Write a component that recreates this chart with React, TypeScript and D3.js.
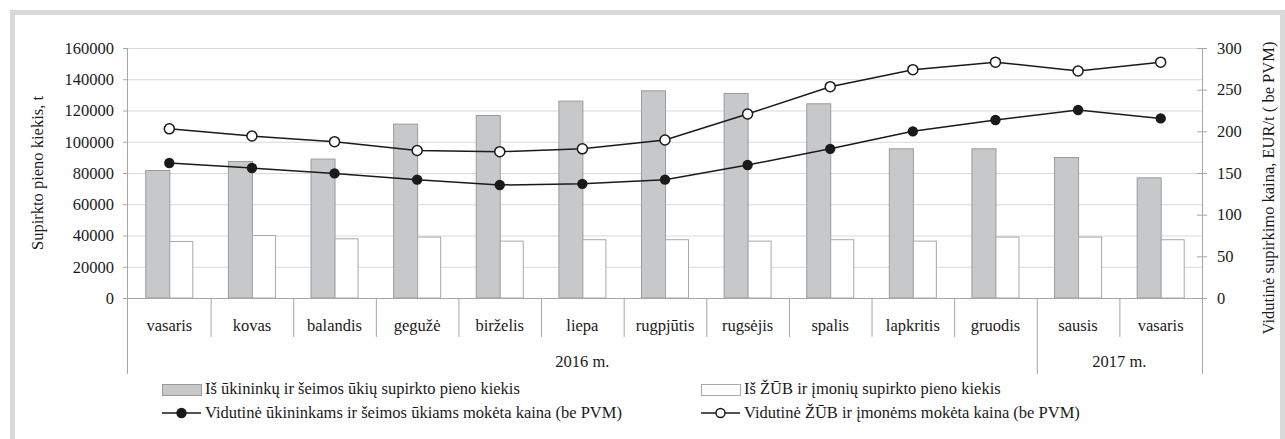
import * as d3 from "d3";

// months of the purchase period (Feb 2016 .. Feb 2017)
const months = [
  "vasaris", "kovas", "balandis", "gegužė", "birželis", "liepa", "rugpjūtis",
  "rugsėjis", "spalis", "lapkritis", "gruodis", "sausis", "vasaris",
];
const yearLabels = ["2016 m.", "2017 m."];
const yearSpans = [11, 2];

// purchased milk, t
const farmQty = [81600, 87400, 88900, 111300, 116800, 126000, 132600, 130900, 124300, 95500, 95500, 89900, 76900];
const coopQty = [36200, 40000, 37900, 39000, 36400, 37300, 37300, 36400, 37300, 36400, 39000, 39000, 37300];

// average price, EUR/t (be PVM)
const farmPrice = [162, 156, 149.5, 142, 135.6, 137, 142, 159.6, 179, 200, 213.6, 225.6, 215.5];
const coopPrice = [203, 194.4, 187.6, 177, 175.6, 179, 189.6, 220.8, 253.6, 274, 283, 272.4, 283];

const leftTicks = [0, 20000, 40000, 60000, 80000, 100000, 120000, 140000, 160000];
const rightTicks = [0, 50, 100, 150, 200, 250, 300];

const legendBars = ["Iš ūkininkų ir šeimos ūkių supirkto pieno kiekis", "Iš ŽŪB ir įmonių supirkto pieno kiekis"];
const legendLines = ["Vidutinė ūkininkams ir šeimos ūkiams mokėta kaina (be PVM)", "Vidutinė ŽŪB ir įmonėms mokėta kaina (be PVM)"];

const W = 1285;
const H = 439;
const m = { left: 128, right: 1202, top: 48, bottom: 298 };
const fontStyle = { fontFamily: '"Liberation Serif", "DejaVu Serif", serif', fontSize: "16.5px" };
const axisGray = "#a6a6a6";
const gridGray = "#d9d9d9";
const txt = "#1a1a1a";

export default function App() {
  const idx = months.map((_, i) => i);
  const x = d3.scaleBand<number>().domain(idx).range([m.left, m.right]);
  const bw = x.bandwidth();
  const sub = d3.scaleBand<string>().domain(["farm", "coop"]).range([0, bw]).paddingOuter(0.72);
  const yL = d3.scaleLinear().domain([0, 160000]).range([m.bottom, m.top]);
  const yR = d3.scaleLinear().domain([0, 300]).range([m.bottom, m.top]);
  const cx = (i: number) => (x(i) as number) + bw / 2;

  const farmLine = d3.line<number>().x((_, i) => cx(i)).y((d) => yR(d))(farmPrice) || "";
  const coopLine = d3.line<number>().x((_, i) => cx(i)).y((d) => yR(d))(coopPrice) || "";

  // year group boundaries
  const bounds: number[] = [0];
  yearSpans.forEach((s) => bounds.push(bounds[bounds.length - 1] + s));
  const edge = (k: number) => (k >= months.length ? m.right : (x(k) as number));

  const legendCols = [162, 701];

  return (
    <div style={{ position: "absolute", left: 0, top: 0 }}>
      <svg width={W} height={H} style={{ display: "block", background: "#fff", ...fontStyle }}>
        <rect x={12.5} y={12.5} width={1270} height={500} fill="none" stroke={gridGray} strokeWidth={5} />

        {/* grid */}
        {leftTicks.map((t) => (
          <line key={"g" + t} x1={m.left} x2={m.right} y1={yL(t) + 0.5} y2={yL(t) + 0.5} stroke={gridGray} strokeWidth={1.2} />
        ))}

        {/* bars */}
        {idx.map((i) => (
          <g key={"b" + i}>
            <rect
              x={(x(i) as number) + (sub("farm") as number) + 0.5}
              y={yL(farmQty[i])}
              width={sub.bandwidth()}
              height={yL(0) - yL(farmQty[i])}
              fill="#c7c8ca"
              stroke="#9b9b9b"
              strokeWidth={1}
            />
            <rect
              x={(x(i) as number) + (sub("coop") as number) + 0.5}
              y={yL(coopQty[i])}
              width={sub.bandwidth() - 1}
              height={yL(0) - yL(coopQty[i])}
              fill="#fff"
              stroke="#a8a8a8"
              strokeWidth={1}
            />
          </g>
        ))}

        {/* axes */}
        <line x1={m.left - 0.5} x2={m.left - 0.5} y1={m.top} y2={374} stroke={axisGray} />
        <line x1={m.right + 0.5} x2={m.right + 0.5} y1={m.top} y2={374} stroke={axisGray} />
        <line x1={m.left - 5} x2={m.right} y1={m.bottom + 0.5} y2={m.bottom + 0.5} stroke={axisGray} />
        {leftTicks.map((t) => (
          <g key={"lt" + t}>
            <line x1={m.left - 5} x2={m.left} y1={yL(t) + 0.5} y2={yL(t) + 0.5} stroke={axisGray} />
            <text x={114} y={yL(t)} dy="0.35em" textAnchor="end" fill={txt} style={fontStyle}>{t}</text>
          </g>
        ))}
        {rightTicks.map((t) => (
          <g key={"rt" + t}>
            <line x1={m.right - 5} x2={m.right + 5} y1={yR(t) + 0.5} y2={yR(t) + 0.5} stroke={axisGray} />
            <text x={1217} y={yR(t)} dy="0.35em" textAnchor="start" fill={txt} style={fontStyle}>{t}</text>
          </g>
        ))}

        {/* category axis */}
        {idx.slice(1).map((i) =>
          bounds.includes(i) ? null : (
            <line key={"d" + i} x1={(x(i) as number) + 0.5} x2={(x(i) as number) + 0.5} y1={m.bottom} y2={337} stroke={axisGray} />
          )
        )}
        {bounds.slice(1, -1).map((k) => (
          <line key={"yb" + k} x1={edge(k) + 0.5} x2={edge(k) + 0.5} y1={m.bottom} y2={374} stroke={axisGray} />
        ))}
        {months.map((mo, i) => (
          <text key={"c" + i} x={cx(i)} y={331} textAnchor="middle" fill={txt} style={fontStyle}>{mo}</text>
        ))}
        {yearLabels.map((yl, k) => (
          <text key={yl} x={(edge(bounds[k]) + edge(bounds[k + 1])) / 2} y={367} textAnchor="middle" fill={txt} style={fontStyle}>{yl}</text>
        ))}

        {/* lines */}
        <path d={farmLine} fill="none" stroke="#1a1a1a" strokeWidth={1.5} />
        <path d={coopLine} fill="none" stroke="#1a1a1a" strokeWidth={1.5} />
        {farmPrice.map((v, i) => (
          <circle key={"fp" + i} cx={cx(i)} cy={yR(v)} r={5.2} fill="#1a1a1a" />
        ))}
        {coopPrice.map((v, i) => (
          <circle key={"cp" + i} cx={cx(i)} cy={yR(v)} r={5} fill="#fff" stroke="#1a1a1a" strokeWidth={1.5} />
        ))}

        {/* axis titles */}
        <text transform={`translate(43,173) rotate(-90)`} textAnchor="middle" fill={txt} style={fontStyle}>Supirkto pieno kiekis, t</text>
        <text transform={`translate(1274,188) rotate(-90)`} textAnchor="middle" fill={txt} style={fontStyle}>Vidutinė supirkimo kaina, EUR/t ( be PVM)</text>

        {/* legend */}
        {legendBars.map((l, k) => (
          <g key={l}>
            <rect x={legendCols[k] + 0.5} y={384.5} width={39} height={11} fill={k === 0 ? "#c7c8ca" : "#fff"} stroke={k === 0 ? "#9b9b9b" : "#a8a8a8"} />
            <text x={legendCols[k] + 43} y={394} fill={txt} style={fontStyle}>{l}</text>
          </g>
        ))}
        {legendLines.map((l, k) => (
          <g key={l}>
            <line x1={legendCols[k]} x2={legendCols[k] + 39} y1={413} y2={413} stroke="#1a1a1a" strokeWidth={1.5} />
            <circle cx={legendCols[k] + 19.5} cy={413} r={k === 0 ? 5.2 : 4.5} fill={k === 0 ? "#1a1a1a" : "#fff"} stroke="#1a1a1a" strokeWidth={k === 0 ? 0 : 1.5} />
            <text x={legendCols[k] + 43} y={418} fill={txt} style={fontStyle}>{l}</text>
          </g>
        ))}
      </svg>
    </div>
  );
}
